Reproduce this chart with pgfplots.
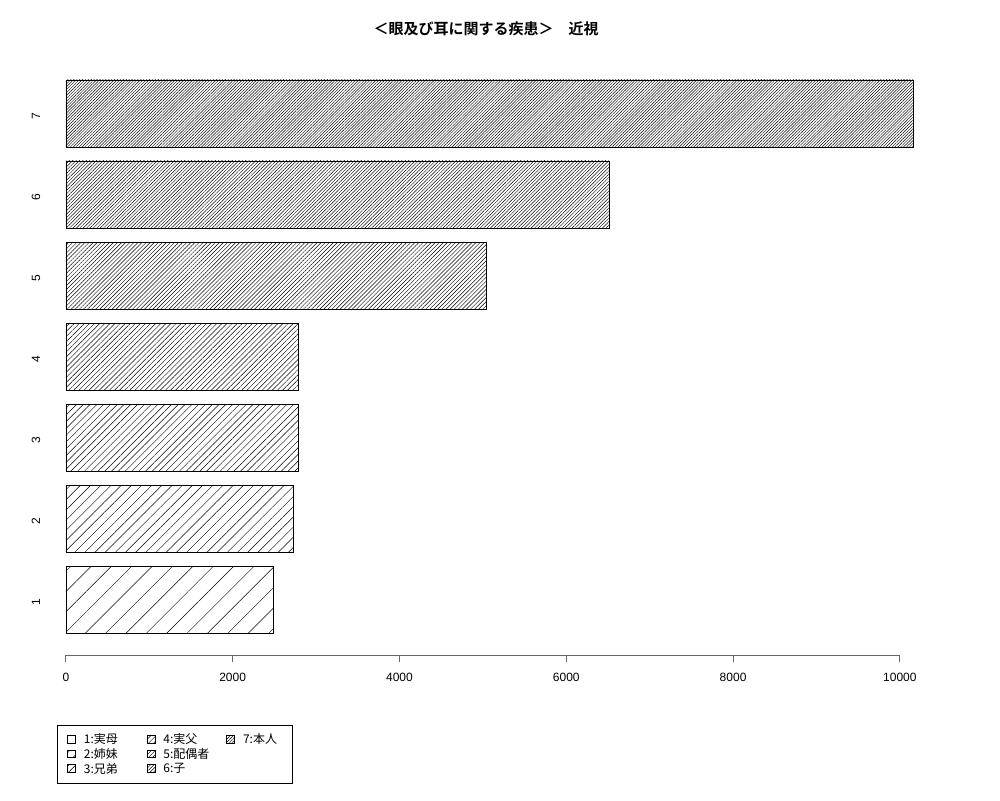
\documentclass[border=0pt]{standalone}
\usepackage{pgfplots}
\pgfplotsset{compat=1.18}
\usetikzlibrary{patterns.meta}
\usepackage{fontspec}
\setmainfont{Liberation Sans}
\newfontfamily\cjk{Noto Sans CJK JP}[BoldFont={Noto Sans CJK JP Bold}]

% one bar per relation, hatch spacing = 72/density
\pgfplotsset{
  hbar/.style={xbar, bar width=67pt, bar shift=0pt, draw=black, line width=0.6pt,
    pattern={Lines[angle=45, distance=#1, line width=0.45pt]},
    legend image code/.code={\draw[##1] (0pt,-3.5pt) rectangle (8pt,4pt);}},
}
\newcommand{\lent}[2][46pt]{\makebox[#1][l]{#2}}

\begin{document}
\begin{tikzpicture}[x=1pt,y=1pt]
\path[use as bounding box] (0,0) rectangle (1000,-800);
\begin{axis}[
  at={(32pt,-655.4pt)}, anchor=south west,
  scale only axis, width=915pt, height=597.8pt,
  xmin=-406, xmax=10565, ymin=0.31, ymax=7.69,
  axis x line*=bottom, axis y line*=left,
  x axis line style={draw=none}, y axis line style={draw=none},
  xtick={0,2000,...,10000},
  ytick={1,...,7},
  tick align=outside,
  major tick length=7pt,
  y tick style={draw=none},
  x tick style={black!60, line width=0.8pt},
  scaled x ticks=false,
  /pgf/number format/assume math mode=true,
  /pgf/number format/set thousands separator={},
  ticklabel style={font=\fontsize{12}{14}\selectfont},
  yticklabel style={anchor=center, xshift=11pt, yshift=-3pt, rotate=90},
  xticklabel style={anchor=north, yshift=-7pt},
  clip=false,
  legend cell align=left,
  legend columns=3,
  legend style={at={(0.0273,-0.1164)}, anchor=north west, draw=black, line width=0.6pt,
    font=\cjk\fontsize{12}{14}\selectfont,
    /tikz/every odd column/.append style={column sep=6pt},
    /tikz/every even column/.append style={column sep=15pt},
    inner xsep=10pt, inner ysep=6.5pt, row sep=-1pt},
]
\addplot[hbar=14.4pt] coordinates {(2482,1)};
\addlegendentry{\lent{1:実母}}
\addplot[hbar=3.6pt] coordinates {(2785,4)};
\addlegendentry{\lent{4:実父}}
\addplot[hbar=2.06pt] coordinates {(10159,7)};
\addlegendentry{\lent[37pt]{7:本人}}
\addplot[hbar=7.2pt] coordinates {(2725,2)};
\addlegendentry{\lent{2:姉妹}}
\addplot[hbar=2.88pt] coordinates {(5036,5)};
\addlegendentry{\lent{5:配偶者}}
\addlegendimage{empty legend}
\addlegendentry{}
\addplot[hbar=4.8pt] coordinates {(2785,3)};
\addlegendentry{\lent{3:兄弟}}
\addplot[hbar=2.4pt] coordinates {(6511,6)};
\addlegendentry{\lent{6:子}}
\addplot[black!60, line width=0.8pt, forget plot] coordinates {(0,0.31) (10000,0.31)};
\end{axis}
\node[font=\cjk\bfseries\fontsize{15}{17}\selectfont] at (486,-29) {＜眼及び耳に関する疾患＞　近視};
\end{tikzpicture}
\end{document}
